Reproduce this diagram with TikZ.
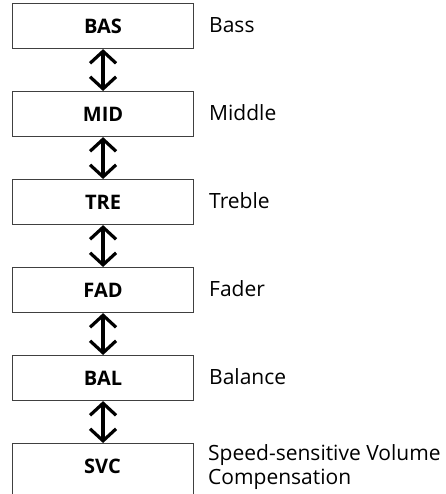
\documentclass[tikz,border=0pt]{standalone}
\usepackage{fontspec}
\setmainfont{Open Sans}
\usetikzlibrary{arrows.meta}
\begin{document}
\begin{tikzpicture}[x=1pt,y=-1pt,
  box/.style={draw=black!75,line width=1.1pt,minimum width=181pt,minimum height=45pt,inner sep=0pt,anchor=north west,font=\fontsize{20}{24}\selectfont\bfseries},
  lbl/.style={anchor=west,inner sep=0pt,align=left,font=\fontsize{21}{24.5}\selectfont},
  dbl/.style={line width=3.2pt,{Straight Barb[length=12pt,width=26pt]}-{Straight Barb[length=12pt,width=26pt]}}]
\useasboundingbox (0,0) rectangle (445,494);
\begin{scope}
\clip (0,0) rectangle (445,494);
\node[box] (bas) at (12,3) {BAS};
\node[box] (mid) at (12,91) {MID};
\node[box] (tre) at (12,179) {TRE};
\node[box] (fad) at (12,267) {FAD};
\node[box] (bal) at (12,355) {BAL};
\node[box,minimum height=60pt] (svc) at (12,443) {};
\node[font=\fontsize{20}{24}\selectfont\bfseries] (svct) at (102.5,466) {SVC};
\end{scope}
\node[lbl] (lbas) at (209,25) {Bass};
\node[lbl] (lmid) at (209,113) {Middle};
\node[lbl] (ltre) at (209,201) {Treble};
\node[lbl] (lfad) at (209,289) {Fader};
\node[lbl] (lbal) at (209,377) {Balance};
\node[lbl] (lsvc) at (208,467) {Speed-sensitive Volume\\Compensation};
\draw[dbl] (bas.south) -- (mid.north);
\draw[dbl] (mid.south) -- (tre.north);
\draw[dbl] (tre.south) -- (fad.north);
\draw[dbl] (fad.south) -- (bal.north);
\draw[dbl] (bal.south) -- (svc.north);
\end{tikzpicture}
\end{document}
